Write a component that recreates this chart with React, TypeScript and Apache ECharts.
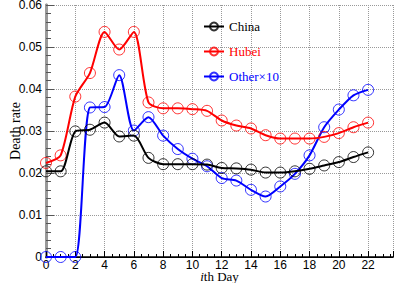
import React, { useEffect, useRef } from "react";
import * as echarts from "echarts";

const days = [0, 1, 2, 3, 4, 5, 6, 7, 8, 9, 10, 11, 12, 13, 14, 15, 16, 17, 18, 19, 20, 21, 22];
const china = [0.0204, 0.0204, 0.0299, 0.0303, 0.032, 0.0287, 0.0289, 0.0236, 0.0221, 0.0221, 0.0221, 0.022, 0.0212, 0.0211, 0.0208, 0.0201, 0.0201, 0.0204, 0.021, 0.0218, 0.0226, 0.0238, 0.0249];
const hubei = [0.0224, 0.0242, 0.0382, 0.0438, 0.0536, 0.0494, 0.0536, 0.0368, 0.0354, 0.0354, 0.0352, 0.0348, 0.0325, 0.0313, 0.0306, 0.029, 0.0282, 0.0282, 0.0282, 0.0286, 0.0295, 0.0309, 0.032];
const other = [0, 0, 0, 0.0356, 0.0357, 0.0433, 0.0301, 0.0333, 0.0289, 0.0257, 0.0234, 0.0216, 0.0188, 0.0182, 0.016, 0.0144, 0.0168, 0.0198, 0.0242, 0.0309, 0.0351, 0.0385, 0.0398];
const seriesNames = ["China", "Hubei", "Other×10"];
const seriesColors = ["#000000", "#ff0000", "#0000ff"];

export default function App() {
  const ref = useRef<HTMLDivElement>(null);
  useEffect(() => {
    if (!ref.current) return;
    const chart = echarts.init(ref.current, null, { renderer: "svg" });
    const data = [china, hubei, other];
    const serif = "Liberation Serif";
    const sans = "Liberation Sans";
    chart.setOption({
      animation: false,
      backgroundColor: "#ffffff",
      grid: { left: 46, top: 5, width: 347, height: 252, outerBoundsMode: "none", containLabel: false },
      legend: {
        orient: "vertical",
        left: 198,
        top: 15,
        itemWidth: 20,
        itemHeight: 10,
        itemGap: 12,
        data: seriesNames.map((n, i) => ({ name: n, textStyle: { color: seriesColors[i] } })),
        textStyle: { fontFamily: serif, fontSize: 13 },
      },
      xAxis: [
        {
          type: "value",
          min: 0,
          max: 23.7,
          interval: 2,
          name: "{i|i}th Day",
          nameLocation: "middle",
          nameGap: 13,
          nameMoveOverlap: false,
          nameTextStyle: {
            fontFamily: serif,
            fontSize: 13,
            color: "#000",
            rich: { i: { fontStyle: "italic", fontFamily: serif, fontSize: 13, color: "#000" } },
          },
          axisLine: { show: true, lineStyle: { color: "#000", width: 1 } },
          axisTick: { show: true, inside: true, length: 6, lineStyle: { color: "#000" } },
          minorTick: { show: true, splitNumber: 4, length: 3, lineStyle: { color: "#000" } },
          axisLabel: {
            fontFamily: sans,
            fontSize: 12,
            color: "#000",
            margin: 2,
            showMaxLabel: false,
            formatter: (v: number) => (Math.abs(v % 2) < 1e-9 ? String(v) : ""),
          },
          splitLine: { show: true, lineStyle: { color: "#999", type: "dotted", width: 1 } },
        },
        {
          type: "value",
          position: "top",
          min: 0,
          max: 23.7,
          axisLine: { show: true, lineStyle: { color: "#000", width: 1.5 } },
          axisTick: { show: false },
          axisLabel: { show: false },
          splitLine: { show: false },
        },
      ],
      yAxis: [
        {
          type: "value",
          min: 0,
          max: 0.06,
          interval: 0.01,
          name: "Death rate",
          nameLocation: "middle",
          nameGap: 24,
          nameMoveOverlap: false,
          nameTextStyle: { fontFamily: serif, fontSize: 14, color: "#000" },
          axisLine: { show: true, lineStyle: { color: "#999", width: 3 } },
          axisTick: { show: true, inside: true, length: 8, lineStyle: { color: "#555" } },
          minorTick: { show: true, splitNumber: 5, length: 5, lineStyle: { color: "#555" } },
          axisLabel: {
            fontFamily: sans,
            fontSize: 12,
            color: "#000",
            margin: 4,
            formatter: (v: number) => (v === 0 ? "0" : v.toFixed(2)),
          },
          splitLine: { show: true, lineStyle: { color: "#999", type: "dotted", width: 1 } },
        },
        {
          type: "value",
          position: "right",
          min: 0,
          max: 0.06,
          axisLine: { show: true, lineStyle: { color: "#999", width: 3 } },
          axisTick: { show: false },
          axisLabel: { show: false },
          splitLine: { show: false },
        },
      ],
      series: seriesNames.map((n, i) => ({
        name: n,
        type: "line",
        xAxisIndex: 0,
        yAxisIndex: 0,
        data: days.map((d, k) => [d, data[i][k]]),
        smooth: 0.25,
        clip: false,
        symbol: "circle",
        symbolSize: 11,
        color: seriesColors[i],
        lineStyle: { color: seriesColors[i], width: 2 },
        itemStyle: { color: "rgba(0,0,0,0)", borderColor: seriesColors[i], borderWidth: 1, opacity: 0.8 },
        z: 3 - i,
      })),
    });
    return () => chart.dispose();
  }, []);
  return <div ref={ref} style={{ position: "fixed", left: 0, top: 0, width: 399, height: 283 }} />;
}
